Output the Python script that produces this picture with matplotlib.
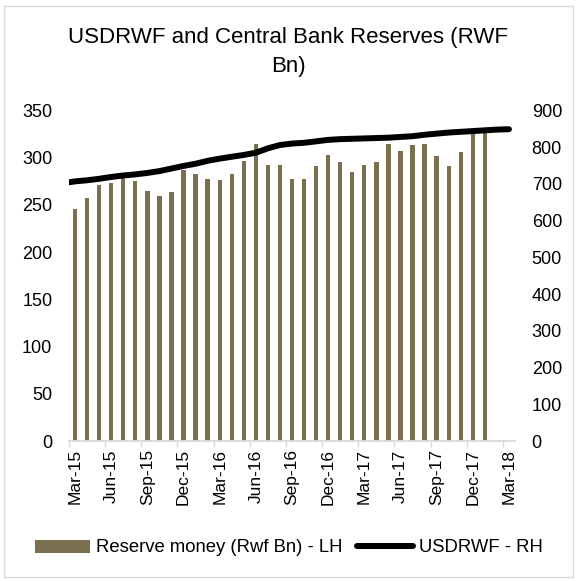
import numpy as np
import pandas as pd
import matplotlib
matplotlib.use("Agg")
import matplotlib.pyplot as plt
from matplotlib.patches import Rectangle, Patch
from matplotlib.lines import Line2D

plt.rcParams['font.family'] = ['Liberation Sans', 'DejaVu Sans']

# Monthly reserve money (RWF bn), left axis
reserve_months = pd.period_range('2015-03', '2018-01', freq='M')
reserve_money = [246, 257, 271, 273, 278, 275, 265, 259, 264,
                 287, 283, 277, 276, 283, 296, 315, 292, 292,
                 277, 277, 291, 303, 295, 285, 292, 295, 314,
                 307, 313, 314, 302, 291, 306, 325, 326]

# Monthly USD/RWF exchange rate, right axis
fx_months = pd.period_range('2015-02', '2018-03', freq='M')
usdrwf = [702, 707, 710, 714, 719, 723, 726, 730, 735, 742,
          749, 755, 763, 769, 774, 779, 785, 797, 806, 810,
          812, 816, 820, 822, 823, 824, 825, 826, 828, 830,
          834, 837, 840, 842, 844, 846, 848, 849]

axis_months = pd.period_range('2015-03', '2018-03', freq='M')
left_ticks = list(range(0, 351, 50))
right_ticks = list(range(0, 901, 100))

start = axis_months[0].ordinal
x_res = np.array([p.ordinal for p in reserve_months]) - start
x_fx = np.array([p.ordinal for p in fx_months]) - start
x_axis = np.array([p.ordinal for p in axis_months]) - start

BAR = '#7A7050'
GRID = '#D9D9D9'
TXT = '#000000'

fig = plt.figure(figsize=(5.77, 5.81), dpi=100)
fig.patches.append(Rectangle((4 / 577, 4 / 581), 569 / 577, 571 / 581,
                             transform=fig.transFigure, fill=False,
                             edgecolor=GRID, linewidth=1.0))

ax = fig.add_axes([69 / 577, 140 / 581, 446 / 577, 330.5 / 581])
ax2 = ax.twinx()

ax.bar(x_res, reserve_money, width=0.36, color=BAR, zorder=2)
ax2.plot(x_fx, usdrwf, color='black', linewidth=4.3,
         solid_capstyle='round', solid_joinstyle='round')

ax.set_xlim(x_axis[0] - 0.5, x_axis[-1] + 0.5)
ax.set_ylim(0, 350)
ax2.set_ylim(0, 900)

ax.set_yticks(left_ticks)
ax2.set_yticks(right_ticks)
ax.tick_params(axis='y', length=0, pad=12, labelsize=13, colors=TXT)
ax2.tick_params(axis='y', length=0, pad=12, labelsize=13, colors=TXT)

# tick marks on month boundaries, labels centred in each quarter's first month
ax.set_xticks(x_axis[::3] - 0.5)
ax.set_xticklabels([])
ax.set_xticks(x_axis[::3], minor=True)
ax.set_xticklabels([p.strftime('%b-%y') for p in axis_months[::3]],
                   minor=True, rotation=90)
ax.tick_params(axis='x', which='major', length=4, width=1, color=GRID,
               direction='out')
ax.tick_params(axis='x', which='minor', length=0, pad=6, labelsize=12.5,
               colors=TXT)

for s in ['top', 'left', 'right']:
    ax.spines[s].set_visible(False)
for s in ax2.spines.values():
    s.set_visible(False)
ax.spines['bottom'].set_color(GRID)
ax.spines['bottom'].set_linewidth(1.3)

fig.text(0.5, 1 - 52 / 581, 'USDRWF and Central Bank Reserves (RWF\nBn)',
         ha='center', va='center', fontsize=16, linespacing=1.5, color=TXT)

handles = [Patch(facecolor=BAR, edgecolor='none'),
           Line2D([], [], color='black', linewidth=4.3,
                  solid_capstyle='round')]
fig.legend(handles, ['Reserve money (Rwf Bn) - LH', 'USDRWF - RH'],
           loc='center', bbox_to_anchor=(0.5, 1 - 548 / 581), ncol=2,
           frameon=False, fontsize=13.3, handlelength=3.0,
           handletextpad=0.32, columnspacing=0.8)

fig.savefig('out.png', dpi=100)
